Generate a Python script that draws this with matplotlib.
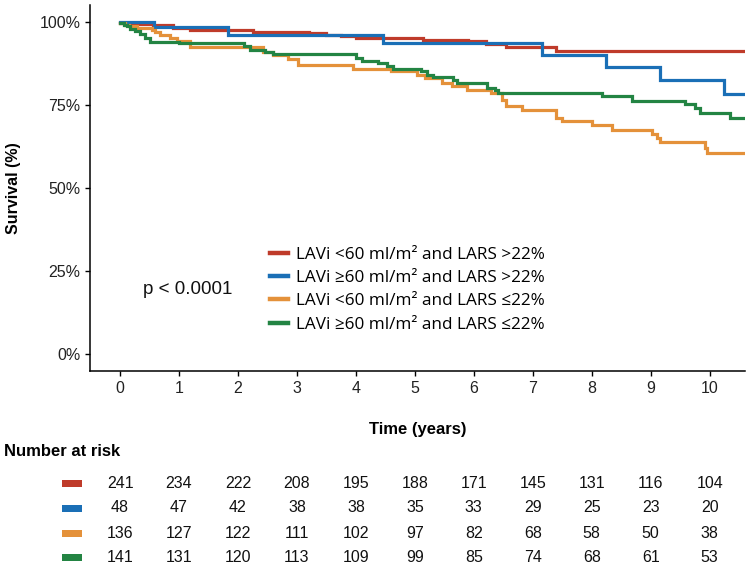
import matplotlib
matplotlib.use("Agg")
import matplotlib.pyplot as plt
import matplotlib.transforms as mtransforms
from matplotlib.lines import Line2D
from matplotlib.patches import Rectangle

# ---------------- data ----------------
groups = ["LAVi <60 ml/m² and LARS >22%",
          "LAVi ≥60 ml/m² and LARS >22%",
          "LAVi <60 ml/m² and LARS ≤22%",
          "LAVi ≥60 ml/m² and LARS ≤22%"]
colors = ["#BF3B2A", "#1A6FB6", "#E4913A", "#238443"]

red_t = [0, 0.14, 0.56, 0.9, 1.18, 2.25, 3.2, 3.5, 3.75, 4.0, 5.14, 5.9, 6.2, 6.55, 7.4, 10.6]
red_s = [99.7, 99.3, 98.9, 98.1, 97.4, 96.9, 96.5, 96.1, 95.6, 95.1, 94.6, 94.1, 93.4, 92.5, 91.1, 91.1]

blue_t = [0, 0.58, 1.83, 4.46, 7.15, 8.25, 9.15, 10.25, 10.6]
blue_s = [100, 98.4, 96.1, 93.6, 90.1, 86.2, 82.5, 78.2, 78.2]

orange_t = [0, 0.08, 0.15, 0.28, 0.54, 0.6, 0.68, 0.85, 0.96, 1.19, 2.43, 2.6, 2.85, 3.02,
            3.95, 4.6, 5.03, 5.17, 5.46, 5.63, 5.88, 6.3, 6.47, 6.55, 6.81, 7.4, 7.49, 8.0,
            8.34, 9.02, 9.1, 9.15, 9.92, 9.95, 10.6]
orange_s = [99.5, 99.0, 98.6, 98.1, 97.4, 97.0, 96.1, 95.1, 94.1, 92.3, 91.0, 90.1, 88.8, 87.0,
            85.7, 85.0, 84.0, 83.0, 81.5, 80.5, 79.5, 78.5, 76.5, 74.5, 73.3, 71.0, 70.0, 68.8,
            67.5, 66.3, 65.0, 63.8, 62.0, 60.4, 60.4]

green_t = [0, 0.06, 0.12, 0.17, 0.25, 0.34, 0.42, 0.51, 1.0, 2.1, 2.2, 2.45, 2.6, 4.0, 4.1,
           4.37, 4.52, 4.63, 5.1, 5.2, 5.3, 5.64, 5.72, 6.22, 6.36, 6.41, 8.17, 8.68, 9.58,
           9.75, 9.83, 10.34, 10.6]
green_s = [99.5, 99.1, 98.6, 97.8, 97.1, 96.3, 95.1, 93.9, 93.6, 92.6, 91.6, 91.0, 90.4, 89.1,
           88.3, 87.5, 86.5, 85.8, 85.0, 84.0, 83.3, 82.3, 81.5, 80.0, 79.3, 78.5, 77.5, 76.2,
           75.2, 74.0, 72.5, 71.0, 71.0]

risk_times = list(range(0, 11))
risk_red = [241, 234, 222, 208, 195, 188, 171, 145, 131, 116, 104]
risk_blue = [48, 47, 42, 38, 38, 35, 33, 29, 25, 23, 20]
risk_orange = [136, 127, 122, 111, 102, 97, 82, 68, 58, 50, 38]
risk_green = [141, 131, 120, 113, 109, 99, 85, 74, 68, 61, 53]

y_ticks = [0, 25, 50, 75, 100]
y_ticklabels = ["0%", "25%", "50%", "75%", "100%"]
p_text = "p < 0.0001"

# ---------------- figure ----------------
W, H = 750, 568
fig = plt.figure(figsize=(W / 100, H / 100), dpi=100)
ax = fig.add_axes([90 / W, 1 - 371 / H, (745 - 90) / W, (371 - 5) / H])

curves = [(red_t, red_s), (blue_t, blue_s), (orange_t, orange_s), (green_t, green_s)]
for (t, s), c in zip(curves, colors):
    ax.step(t, s, where="post", color=c, lw=2.3, solid_joinstyle="miter")

ax.set_xlim(-0.51, 10.6)
ax.set_ylim(-5.1, 105)
ax.set_xticks(risk_times)
ax.set_yticks(y_ticks)
ax.set_yticklabels(y_ticklabels)
for sp in ["top", "right"]:
    ax.spines[sp].set_visible(False)
for sp in ["left", "bottom"]:
    ax.spines[sp].set_linewidth(1.1)
    ax.spines[sp].set_color("black")
ax.tick_params(axis="both", length=3.5, width=1.0, color="black",
               labelsize=11.5, labelcolor="#222222")
for lab in ax.get_xticklabels() + ax.get_yticklabels():
    lab.set_family("Liberation Sans")

ax.set_ylabel("Survival (%)", fontsize=11.5, fontweight="bold", family="Liberation Sans")
ax.yaxis.set_label_coords((21 - 90) / 655, 0.5)
ax.set_xlabel("Time (years)", fontsize=12, fontweight="bold",
              family=["Liberation Sans Narrow", "Liberation Sans"])
ax.xaxis.set_label_coords(0.5, -(422 - 371) / 366)

# p-value
ax.text(1.15, 19.5, p_text, fontsize=13.5, family="Liberation Sans", color="#111111",
        ha="center", va="center")

# legend
handles = [Line2D([0], [0], color=c, lw=3.2) for c in colors]
leg = ax.legend(handles, groups, loc="upper left", frameon=False,
                bbox_to_anchor=(270 / W, 1 - 247 / H), bbox_transform=fig.transFigure,
                prop={"family": ["Open Sans", "DejaVu Sans"], "size": 12.3},
                handlelength=1.05, handletextpad=0.45, labelspacing=0.42,
                borderaxespad=0, borderpad=0)

# risk table
fig.text(4 / W, 1 - 451 / H, "Number at risk", fontsize=12, fontweight="bold",
         family=["Liberation Sans Narrow", "Liberation Sans"], ha="left", va="center")
trans = mtransforms.blended_transform_factory(ax.transData, fig.transFigure)
row_y = [483, 508, 533, 557]
for vals, c, yp in zip([risk_red, risk_blue, risk_orange, risk_green], colors, row_y):
    fig.patches.append(Rectangle((62 / W, 1 - (yp + 3.5) / H), 20 / W, 7 / H,
                                 transform=fig.transFigure, color=c, lw=0))
    for t, v in zip(risk_times, vals):
        fig.text(t, 1 - yp / H, str(v), transform=trans, ha="center", va="center",
                 fontsize=11.5, family=["Liberation Sans Narrow", "Liberation Sans"],
                 color="#111111")

fig.savefig("out.png", dpi=100)
